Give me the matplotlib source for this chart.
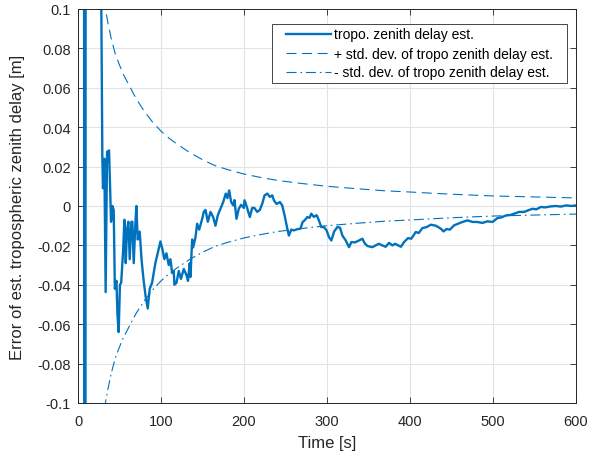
import matplotlib
matplotlib.use("Agg")
import matplotlib.pyplot as plt
from matplotlib.patches import Rectangle
from matplotlib.ticker import FuncFormatter, MultipleLocator

# Troposphere zenith delay estimation error over time
time_est = [
    7.0, 7.8, 8.8, 9.4, 26.5, 29.3, 30.1, 31.7, 33.3, 35.0, 37.4, 39.8, 41.4,
    43.0, 44.4, 46.3, 47.5, 49.0, 50.5, 52.0, 54.3, 55.9, 57.5, 59.0, 60.7,
    62.3, 64.3, 65.5, 67.1, 69.0, 70.3, 71.9, 74.3, 76.7, 79.1, 81.5, 84.0,
    86.4, 89.2, 93.2, 96.0, 99.3, 101.7, 104.0, 106.5, 109.3, 111.3, 113.4,
    115.3, 116.2, 118.6, 121.4, 124.0, 127.4, 130.6, 132.5, 134.6, 135.5,
    137.5, 138.7, 141.5, 143.5, 146.0, 149.6, 151.5, 153.6, 156.4, 159.6,
    162.8, 165.6, 168.4, 171.6, 174.9, 178.0, 180.0, 182.1, 184.5, 187.0,
    188.5, 190.9, 193.7, 196.5, 199.7, 200.6, 203.0, 205.8, 207.0, 209.8,
    212.5, 215.9, 219.0, 222.0, 224.7, 228.0, 231.2, 234.0, 236.0, 239.2,
    243.2, 246.0, 248.9, 251.3, 254.0, 256.9, 260.0, 264.0, 268.0, 270.6,
    273.0, 276.2, 279.0, 281.0, 284.0, 287.5, 290.2, 293.1, 296.3, 299.5,
    302.3, 305.2, 308.5, 312.4, 315.6, 318.5, 322.5, 326.5, 329.3, 333.5,
    338.5, 342.6, 345.5, 348.6, 354.6, 358.5, 362.6, 366.6, 370.6, 374.7,
    378.7, 382.0, 385.6, 389.0, 392.8, 397.6, 401.5, 406.9, 410.5, 414.9,
    420.1, 425.0, 431.0, 437.0, 440.3, 444.0, 448.0, 453.1, 458.0, 463.2,
    469.2, 475.2, 481.0, 487.3, 493.0, 499.4, 505.4, 510.0, 515.4, 520.7,
    525.5, 531.5, 537.5, 542.3, 547.6, 552.0, 557.7, 563.0, 569.7, 575.7,
    582.0, 587.9, 594.0, 600.0,
]
zd_error = [
    0.6, -0.6, -0.4, 0.5, 0.2, 0.025, 0.009, 0.024, -0.0437, 0.0275, 0.0282,
    -0.008, 0.0, -0.002, -0.042, -0.038, -0.055, -0.064, -0.040, -0.039,
    -0.023, -0.007, -0.029, -0.012, -0.008, -0.027, -0.008, -0.008, -0.029,
    -0.010, 0.0, -0.017, -0.013, -0.028, -0.038, -0.046, -0.052, -0.042,
    -0.039, -0.029, -0.024, -0.018, -0.022, -0.027, -0.024, -0.030, -0.027,
    -0.034, -0.033, -0.040, -0.039, -0.033, -0.037, -0.032, -0.035, -0.038,
    -0.029, -0.036, -0.017, -0.021, -0.016, -0.009, -0.012, -0.0065, -0.003,
    -0.002, -0.008, -0.003, -0.0056, -0.010, -0.0047, -0.0014, 0.002, 0.0063,
    0.004, 0.0079, 0.002, 0.0003, 0.003, -0.0065, -0.0014, 0.0006, -0.001,
    0.0029, 0.0, -0.004, -0.0056, -0.001, -0.001, -0.003, -0.002, 0.0012,
    0.0054, 0.0063, 0.0046, 0.0054, 0.0029, 0.001, 0.002, 0.0003, -0.0048,
    -0.0098, -0.015, -0.012, -0.0124, -0.0118, -0.0115, -0.0081, -0.0073,
    -0.0056, -0.006, -0.0039, -0.0055, -0.0047, -0.0073, -0.0107, -0.0107,
    -0.0124, -0.0158, -0.0175, -0.013, -0.0107, -0.011, -0.015, -0.0175,
    -0.0209, -0.0183, -0.0185, -0.0175, -0.0166, -0.019, -0.0203, -0.0209,
    -0.020, -0.0192, -0.0200, -0.0207, -0.0187, -0.020, -0.0192, -0.0200,
    -0.0207, -0.0183, -0.0163, -0.0166, -0.0132, -0.0137, -0.0112, -0.0107,
    -0.0095, -0.0100, -0.0115, -0.0129, -0.0117, -0.0120, -0.0098, -0.0090,
    -0.0081, -0.0073, -0.0081, -0.0081, -0.0086, -0.0078, -0.0081, -0.0061,
    -0.0058, -0.0048, -0.0046, -0.0039, -0.003, -0.003, -0.0022, -0.0014,
    -0.0017, -0.0005, -0.0007, -0.0002, 0.0, -0.0003, 0.0003, 0.0, 0.0003,
]

# Standard deviation of the estimate
time_std = [30, 33, 36, 40, 45, 50, 55, 60, 65, 70, 80, 90, 100, 110, 120,
            135, 150, 165, 180, 200, 220, 240, 270, 300, 335, 370, 400, 430,
            465, 500, 550, 600]
zd_std = [0.113, 0.100, 0.093, 0.085, 0.077, 0.0715, 0.0665, 0.0625, 0.0585,
          0.0545, 0.048, 0.0425, 0.038, 0.0343, 0.0312, 0.027, 0.0235, 0.0205,
          0.0185, 0.0162, 0.0145, 0.013, 0.0114, 0.0100, 0.0088, 0.0077,
          0.0071, 0.0064, 0.0057, 0.0051, 0.0046, 0.0041]

x_ticks = [0, 100, 200, 300, 400, 500, 600]

plt.rcParams["font.family"] = ["Liberation Sans", "DejaVu Sans"]
color = "#0072BD"
axis_color = "#262626"

fig = plt.figure(figsize=(6.01, 4.52), dpi=100)
ax = fig.add_axes([0.1298, 0.1062, 0.8287, 0.8717])

ax.plot(time_est, zd_error, color=color, lw=1.7,
        label="tropo. zenith delay est.")
ax.plot(time_std, zd_std, color=color, lw=0.8, dashes=(9, 5),
        label="+ std. dev. of tropo zenith delay est.")
ax.plot(time_std, [-s for s in zd_std], color=color, lw=0.8,
        dashes=(9, 3.5, 1.5, 3.5), label="- std. dev. of tropo zenith delay est.")

ax.set_xlim(0, 600)
ax.set_ylim(-0.1, 0.1)
ax.set_xticks(x_ticks)
ax.yaxis.set_major_locator(MultipleLocator(0.02))
ax.yaxis.set_major_formatter(
    FuncFormatter(lambda v, _: "0" if abs(v) < 1e-9 else f"{v:g}"))

ax.grid(True, color="#e3e3e3", lw=0.8)
ax.set_axisbelow(True)
ax.tick_params(direction="in", length=4, width=0.6, colors=axis_color,
               labelsize=10.5, top=True, right=True)
ax.tick_params(axis="x", pad=8)
ax.tick_params(axis="y", pad=5)
for sp in ax.spines.values():
    sp.set_color(axis_color)
    sp.set_linewidth(0.7)

ax.set_xlabel("Time [s]", fontsize=12, color=axis_color, labelpad=5)
ax.set_ylabel("Error of est. tropospheric zenith delay [m]", fontsize=12,
              color=axis_color, labelpad=9)

# legend without its own frame; a box with wider side margins is drawn around it
leg = ax.legend(loc="upper left", bbox_to_anchor=(286 / 601, 1 - 28.5 / 452),
                bbox_transform=fig.transFigure, fontsize=10,
                handlelength=3.25, handletextpad=0.2, borderpad=0,
                labelspacing=0.36, frameon=False, borderaxespad=0)
fig.canvas.draw()
bb = leg.get_window_extent().transformed(fig.transFigure.inverted())
pad_x, pad_y = 14 / 601, 3.5 / 452
ax.add_artist(Rectangle((bb.x0 - pad_x, bb.y0 - pad_y),
                        bb.width + 2 * pad_x, bb.height + 2 * pad_y,
                        transform=fig.transFigure, facecolor="white",
                        edgecolor=axis_color, lw=0.6, zorder=4.9,
                        clip_on=False))
leg.set_zorder(5)

fig.savefig("out.png", dpi=100)
